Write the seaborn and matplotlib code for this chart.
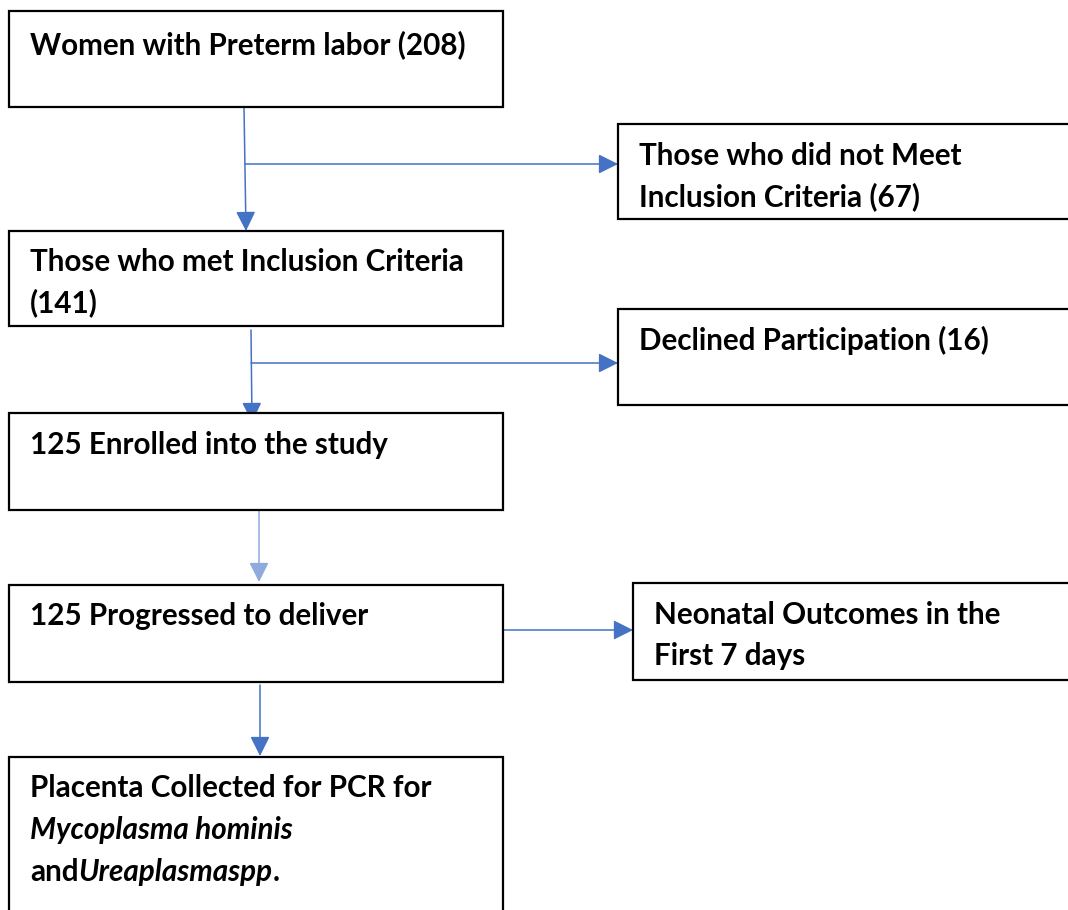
import seaborn as sns
import matplotlib.pyplot as plt
from matplotlib.patches import Rectangle

sns.set_style("white")
plt.rcParams['font.family'] = ['Lato', 'DejaVu Sans']

# boxes: (left, top, right, bottom) in pixel coords
box_left = [9, 618, 9, 618, 9, 9, 633, 9]
box_top = [11, 124, 231, 309, 413, 585, 583, 757]
box_right = [503, 1075, 503, 1075, 503, 503, 1075, 503]
box_bottom = [107, 219, 326, 405, 510, 682, 680, 920]

labels = [
    ["Women with Preterm labor (208)"],
    ["Those who did not Meet", "Inclusion Criteria (67)"],
    ["Those who met Inclusion Criteria", "(141)"],
    ["Declined Participation (16)"],
    ["125 Enrolled into the study"],
    ["125 Progressed to deliver"],
    ["Neonatal Outcomes in the", "First 7 days"],
]
label_x = [30, 639, 30, 639, 30, 30, 654]
label_y = [45, 156, 262, 340, 445, 616, 615]
line_gap = 41

# arrows: (x0, y0, x1, y1, colour)
arrow_x0 = [244, 245, 251, 251, 259, 503, 260]
arrow_y0 = [107, 164, 330, 363, 510, 630, 685]
arrow_x1 = [246, 618, 252, 618, 259, 633, 260]
arrow_y1 = [231, 164, 422, 363, 582, 630, 756]
arrow_col = ["#4472C4", "#4472C4", "#4472C4", "#4472C4", "#8FAADC", "#4472C4", "#4472C4"]

fs = 21.3

fig = plt.figure(figsize=(10.68, 9.1), dpi=100)
ax = fig.add_axes([0, 0, 1, 1])
ax.set_xlim(0, 1068)
ax.set_ylim(910, 0)
ax.axis("off")

for x0, y0, x1, y1, c in zip(arrow_x0, arrow_y0, arrow_x1, arrow_y1, arrow_col):
    ax.annotate("", xy=(x1, y1), xytext=(x0, y0),
                arrowprops=dict(arrowstyle="-|>,head_length=0.6,head_width=0.3",
                                color=c, lw=1.1, shrinkA=0, shrinkB=0,
                                mutation_scale=20), zorder=2)

for l, t, r, b in zip(box_left, box_top, box_right, box_bottom):
    ax.add_patch(Rectangle((l, t), r - l, b - t, facecolor="white",
                           edgecolor="black", lw=1.6, zorder=3))

for lines, x, y in zip(labels, label_x, label_y):
    for i, s in enumerate(lines):
        ax.text(x, y + i * line_gap, s, fontsize=fs, fontweight="bold",
                color="black", va="center", ha="left", zorder=4)

# last box with mixed italic text
ax.text(30, 788, "Placenta Collected for PCR for", fontsize=fs,
        fontweight="bold", color="black", va="center", zorder=4)
ax.text(30, 830, "Mycoplasma hominis", fontsize=fs, fontweight="bold",
        style="italic", color="black", va="center", zorder=4)
t1 = ax.text(30, 872, "and", fontsize=fs, fontweight="bold",
             color="black", va="center", zorder=4)
t2 = ax.annotate("Ureaplasmaspp", xy=(1, 0), xycoords=t1, fontsize=fs,
                 fontweight="bold", style="italic", color="black",
                 va="bottom", zorder=4)
ax.annotate(".", xy=(1, 0), xycoords=t2, fontsize=fs, fontweight="bold",
            color="black", va="bottom", zorder=4)

fig.savefig("out.png", dpi=100)
